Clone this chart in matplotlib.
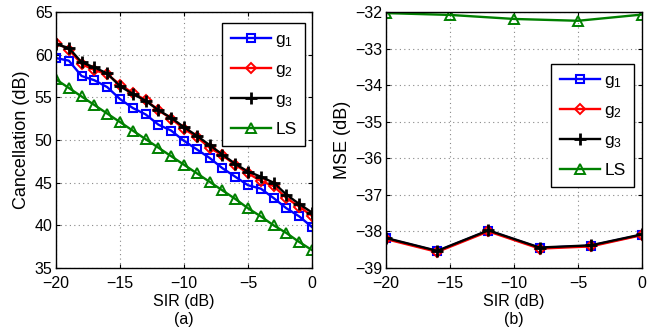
import matplotlib
matplotlib.use("Agg")
import matplotlib.pyplot as plt

plt.rcParams['font.family'] = ['Liberation Sans', 'DejaVu Sans']
plt.rcParams['font.size'] = 11.5
plt.rcParams['mathtext.fontset'] = 'custom'
plt.rcParams['mathtext.rm'] = 'Liberation Sans'
plt.rcParams['mathtext.default'] = 'regular'

# Panel (a) data
sir_a = [-20, -19, -18, -17, -16, -15, -14, -13, -12, -11, -10,
         -9, -8, -7, -6, -5, -4, -3, -2, -1, 0]
g1_a = [59.6, 59.3, 57.5, 57.0, 56.2, 54.8, 53.75, 53.0, 51.8, 51.1, 49.9,
        48.9, 47.9, 46.7, 45.7, 44.7, 44.3, 43.2, 42.0, 41.05, 39.8]
g2_a = [61.4, 60.6, 58.9, 58.2, 57.7, 56.5, 55.5, 54.7, 53.5, 52.5, 51.3,
        50.35, 49.1, 48.2, 47.1, 46.1, 45.2, 44.6, 43.2, 42.2, 41.1]
g3_a = [61.2, 60.8, 59.1, 58.5, 57.8, 56.3, 55.4, 54.6, 53.5, 52.6, 51.5,
        50.5, 49.4, 48.3, 47.2, 46.3, 45.7, 45.0, 43.6, 42.5, 41.5]
ls_a = [57.1, 56.1, 55.1, 54.1, 53.1, 52.1, 51.1, 50.1, 49.1, 48.1, 47.1,
        46.1, 45.1, 44.1, 43.1, 42.0, 41.05, 40.0, 39.1, 38.05, 37.1]

# Panel (b) data
sir_b = [-20, -16, -12, -8, -4, 0]
g1_b = [-38.19, -38.54, -37.98, -38.45, -38.39, -38.09]
g2_b = [-38.21, -38.56, -38.00, -38.47, -38.41, -38.10]
g3_b = [-38.18, -38.53, -37.97, -38.44, -38.38, -38.08]
sir_ls_b = [-20, -15, -10, -5, 0]
ls_b = [-32.03, -32.08, -32.19, -32.24, -32.07]

labels = ['g$_1$', 'g$_2$', 'g$_3$', 'LS']

fig = plt.figure(figsize=(6.59, 3.33), dpi=100)
ax1 = fig.add_axes([56/659, 1 - 268/333, 256/659, 256/333])
ax2 = fig.add_axes([386/659, 1 - 268/333, 256/659, 256/333])


def draw(ax, xs, g1, g2, g3, xls, ls):
    ax.plot(xs, g1, color='blue', marker='s', mfc='none', mec='blue', lw=1.7, ms=5.5, mew=1.5, label=labels[0])
    ax.plot(xs, g2, color='red', marker='D', mfc='none', mec='red', lw=1.7, ms=5.2, mew=1.4, label=labels[1])
    ax.plot(xs, g3, color='black', marker='+', mec='black', lw=1.7, ms=8.5, mew=2.0, label=labels[2])
    ax.plot(xls, ls, color='#008000', marker='^', mfc='none', mec='#008000', lw=1.7, ms=7, mew=1.4, label=labels[3])
    ax.grid(True, linestyle=(0, (1, 3)), color='#888888', linewidth=0.8)
    ax.tick_params(direction='in', length=3, width=0.8, top=True, right=True)
    ax.tick_params(axis='x', pad=6)
    ax.tick_params(axis='y', pad=2.5)
    for s in ax.spines.values():
        s.set_linewidth(1.0)
    ax.set_xlim(-20, 0)
    ax.set_xticks([-20, -15, -10, -5, 0])
    ax.set_xticklabels(['\u221220', '\u221215', '\u221210', '\u22125', '0'])


def legend(ax, anchor):
    leg = ax.legend(loc='upper right', bbox_to_anchor=anchor, fancybox=False,
                    edgecolor='black', framealpha=1, handlelength=2.3, labelspacing=0.75,
                    borderpad=0.5, handletextpad=0.25, borderaxespad=0, fontsize=12.5)
    leg.get_frame().set_linewidth(1.0)


draw(ax1, sir_a, g1_a, g2_a, g3_a, sir_a, ls_a)
ax1.set_ylim(35, 65)
ax1.set_yticks([35, 40, 45, 50, 55, 60, 65])
ax1.set_ylabel('Cancellation (dB)', labelpad=3, fontsize=13)
ax1.set_xlabel('SIR (dB)\n(a)', labelpad=2, linespacing=1.25)
legend(ax1, (0.973, 0.957))

draw(ax2, sir_b, g1_b, g2_b, g3_b, sir_ls_b, ls_b)
ax2.set_ylim(-39, -32)
ax2.set_yticks([-39, -38, -37, -36, -35, -34, -33, -32])
ax2.set_yticklabels(['\u221239', '\u221238', '\u221237', '\u221236', '\u221235', '\u221234', '\u221233', '\u221232'])
ax2.set_ylabel('MSE (dB)', labelpad=3, fontsize=13)
ax2.set_xlabel('SIR (dB)\n(b)', labelpad=2, linespacing=1.25)
legend(ax2, (0.969, 0.797))

fig.savefig('out.png', dpi=100)
